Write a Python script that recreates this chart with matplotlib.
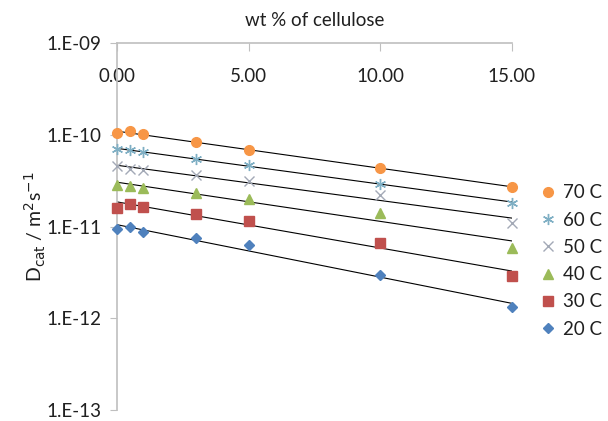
import numpy as np
import matplotlib ; matplotlib.use('Agg')
from matplotlib import pyplot as plt

plt.rcParams['font.family'] = ['Lato', 'DejaVu Sans']

# cellulose content (wt %)
wt = np.array([0., 0.5, 1., 3., 5., 10., 15.])

# cation diffusion coefficients (m2/s) at each temperature
d_20C = [9.35e-12, 9.83e-12, 8.77e-12, 7.41e-12, 6.28e-12, 2.95e-12, 1.33e-12]
d_30C = [1.59e-11, 1.77e-11, 1.64e-11, 1.37e-11, 1.16e-11, 6.67e-12, 2.86e-12]
d_40C = [2.86e-11, 2.79e-11, 2.64e-11, 2.33e-11, 1.97e-11, 1.42e-11, 5.88e-12]
d_50C = [4.53e-11, 4.24e-11, 4.13e-11, 3.67e-11, 3.12e-11, 2.23e-11, 1.10e-11]
d_60C = [6.97e-11, 6.80e-11, 6.47e-11, 5.43e-11, 4.68e-11, 2.92e-11, 1.82e-11]
d_70C = [1.04e-10, 1.09e-10, 1.01e-10, 8.30e-11, 6.80e-11, 4.34e-11, 2.70e-11]

labels = ['20 C', '30 C', '40 C', '50 C', '60 C', '70 C']
series = [d_20C, d_30C, d_40C, d_50C, d_60C, d_70C]
colors = ['#4F81BD', '#C0504D', '#9BBB59', '#A3A9B6', '#7FAFC4', '#F79646']
markers = ['D', 's', '^', 'x', (6, 2, 0), 'o']
sizes = [5.5, 7, 7, 7.5, 8, 7]

fig = plt.figure(figsize=(6.08, 4.21), dpi=100)
ax = fig.add_axes([0.1924, 0.026, 0.6497, 0.8719])

handles = []
for d, lab, c, m, s in zip(series, labels, colors, markers, sizes):
    d = np.array(d)
    # exponential trendline: straight line on the log axis
    k, b = np.polyfit(wt, np.log(d), 1)
    xx = np.array([0., 15.])
    ax.plot(xx, np.exp(b + k*xx), color='black', lw=0.8, zorder=2)
    h, = ax.plot(wt, d, linestyle='none', marker=m, color=c, ms=s,
                 mew=1.0, label=lab, zorder=3, clip_on=False)
    handles.append(h)

ax.set_yscale('log')
ax.set_ylim(1e-13, 1e-9)
ax.set_xlim(0, 15)
ax.set_yticks([1e-13, 1e-12, 1e-11, 1e-10, 1e-9])
ax.set_yticklabels(['1.E-13', '1.E-12', '1.E-11', '1.E-10', '1.E-09'])
ax.yaxis.set_minor_locator(matplotlib.ticker.NullLocator())
ax.set_xticks([0, 5, 10, 15])
ax.set_xticklabels(['0.00', '5.00', '10.00', '15.00'])

# axis title sits above the top spine, tick labels hang below it
ax.set_xlabel('wt % of cellulose', fontsize=13.5, color='#202020')
ax.xaxis.set_label_coords(0.5, 1.062)
ax.xaxis.label.set_va('center')
ax.set_ylabel(r'D$_{\mathrm{cat}}$ / m$^{2}$s$^{-1}$', fontsize=14, labelpad=-1,
              color='#202020')

ax.tick_params(axis='x', bottom=False, labelbottom=False, top=True, labeltop=True,
               direction='in', length=6, pad=-30, color='#BFBFBF', labelsize=13.5,
               labelcolor='#202020')
ax.tick_params(axis='y', direction='out', length=5, color='#BFBFBF', labelsize=13.5,
               labelcolor='#202020', pad=6)

for side in ['right', 'bottom']:
    ax.spines[side].set_visible(False)
for side in ['left', 'top']:
    ax.spines[side].set_color('#BFBFBF')
    ax.spines[side].set_linewidth(1.2)

fig.legend(handles[::-1], labels[::-1], loc='center left',
           bbox_to_anchor=(0.862, 0.38), frameon=False, fontsize=13.5,
           handlelength=0.8, handletextpad=0.4, labelspacing=0.55,
           labelcolor='#202020')

plt.savefig('out.png', dpi=100)
